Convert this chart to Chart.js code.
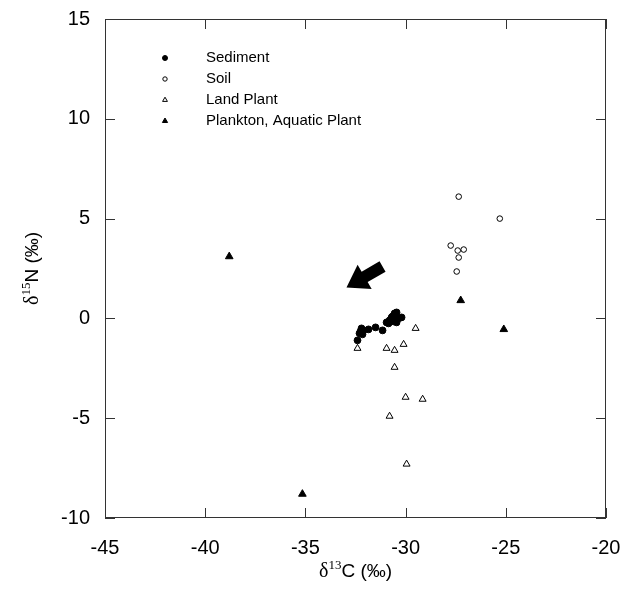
<!DOCTYPE html>
<html>
<head>
<meta charset="utf-8">
<script src="https://cdn.jsdelivr.net/npm/chart.js@4"></script>
<style>
  html,body{margin:0;padding:0;background:#fff;}
  #wrap{width:621px;height:605px;}
</style>
</head>
<body>
<div id="wrap"><canvas id="c" width="621" height="605"></canvas></div>
<script>
// valores (d13C, d15N)
const sedimentX = [-32.4,-32.2,-32.25,-32.15,-32.1,-32.3,-31.85,-31.5,-31.15,-30.95,-30.8,-30.7,-30.55,-30.45,-30.35,-30.2,-30.45,-30.6,-30.85,-30.65];
const sedimentY = [-1.1,-0.5,-0.65,-0.8,-0.6,-0.75,-0.55,-0.45,-0.6,-0.2,-0.1,0.05,0.25,0.3,0.0,0.05,-0.2,-0.15,-0.25,0.1];
const soilX = [-27.35,-25.3,-27.75,-27.4,-27.1,-27.35,-27.45];
const soilY = [6.1,5.0,3.65,3.4,3.45,3.05,2.35];
const landX = [-29.5,-32.4,-30.95,-30.55,-30.1,-30.55,-30.0,-29.15,-30.8,-29.95];
const landY = [-0.5,-1.5,-1.5,-1.6,-1.3,-2.45,-3.95,-4.05,-4.9,-7.3];
const planktonX = [-38.8,-27.25,-25.1,-35.15];
const planktonY = [3.1,0.9,-0.55,-8.8];

const seriesNames = ['Sediment','Soil','Land Plant','Plankton, Aquatic Plant'];
const xTicks = [-45,-40,-35,-30,-25,-20];
const yTicks = [-10,-5,0,5,10,15];
// seta (em coordenadas dos dados): cauda -> ponta
const arrowFrom = [-31.15, 2.6];
const arrowTo = [-32.95, 1.55];

function pts(xs, ys){ return xs.map((x,i)=>({x, y:ys[i]})); }

const styles = [
  { pointStyle:'circle', radius:3.4, bg:'#000', border:'#000', legendR:2.5 },
  { pointStyle:'circle', radius:2.8, bg:'#fff', border:'#000', legendR:2.2 },
  { pointStyle:'triangle', radius:4, bg:'#fff', border:'#000', legendR:2.8 },
  { pointStyle:'triangle', radius:4.4, bg:'#000', border:'#000', legendR:3 }
];
const allData = [pts(sedimentX,sedimentY), pts(soilX,soilY), pts(landX,landY), pts(planktonX,planktonY)];

const SANS = '"Liberation Sans", Arial, sans-serif';
const SERIF = '"Liberation Serif", "Times New Roman", serif';

const framePlugin = {
  id:'frame',
  afterDraw(chart){
    const {ctx, chartArea:a, scales} = chart;
    const xs = scales.x, ys = scales.y;
    ctx.save();
    // caixa
    ctx.strokeStyle = '#333';
    ctx.lineWidth = 1;
    ctx.strokeRect(a.left+0.5, a.top+0.5, a.right-a.left-1, a.bottom-a.top-1);
    // ticks para dentro
    ctx.beginPath();
    xTicks.forEach(v=>{
      const px = Math.round(xs.getPixelForValue(v))+0.5;
      ctx.moveTo(px, a.bottom); ctx.lineTo(px, a.bottom-10);
      ctx.moveTo(px, a.top); ctx.lineTo(px, a.top+10);
    });
    yTicks.forEach(v=>{
      const py = Math.round(ys.getPixelForValue(v))+0.5;
      ctx.moveTo(a.left, py); ctx.lineTo(a.left+10, py);
      ctx.moveTo(a.right, py); ctx.lineTo(a.right-10, py);
    });
    ctx.stroke();

    // legenda
    const lx = 165, ly0 = 58, step = 21;
    seriesNames.forEach((name,i)=>{
      const s = styles[i];
      const y = ly0 + i*step;
      ctx.fillStyle = s.bg; ctx.strokeStyle = s.border; ctx.lineWidth = 1;
      Chart.helpers.drawPoint(ctx, { pointStyle:s.pointStyle, radius:s.legendR, borderWidth:1 }, lx, y);
      ctx.fillStyle = '#000';
      ctx.font = '15px ' + SANS;
      ctx.textBaseline = 'middle';
      ctx.textAlign = 'left';
      ctx.fillText(name, 206, y);
    });

    // seta
    const tx = xs.getPixelForValue(arrowFrom[0]), ty = ys.getPixelForValue(arrowFrom[1]);
    const hx = xs.getPixelForValue(arrowTo[0]), hy = ys.getPixelForValue(arrowTo[1]);
    const ang = Math.atan2(hy-ty, hx-tx);
    const len = Math.hypot(hx-tx, hy-ty);
    ctx.translate(tx, ty); ctx.rotate(ang);
    const headL = 21, shaftW = 6, headW = 14;
    ctx.beginPath();
    ctx.moveTo(0,-shaftW); ctx.lineTo(len-headL,-shaftW); ctx.lineTo(len-headL,-headW);
    ctx.lineTo(len,0); ctx.lineTo(len-headL,headW); ctx.lineTo(len-headL,shaftW); ctx.lineTo(0,shaftW);
    ctx.closePath();
    ctx.fillStyle = '#000'; ctx.fill();
    ctx.setTransform(1,0,0,1,0,0);

    // títulos dos eixos com sobrescrito
    function richTitle(parts, cx, cy, rot){
      ctx.save();
      ctx.translate(cx, cy); if(rot) ctx.rotate(rot);
      let w = 0;
      parts.forEach(p=>{ ctx.font = p.font; w += ctx.measureText(p.t).width; });
      let x = -w/2;
      ctx.textBaseline = 'alphabetic'; ctx.textAlign = 'left'; ctx.fillStyle = '#000';
      parts.forEach(p=>{ ctx.font = p.font; ctx.fillText(p.t, x, 7 + (p.dy||0)); x += ctx.measureText(p.t).width; });
      ctx.restore();
    }
    richTitle([
      {t:'δ', font:'20px '+SERIF},
      {t:'13', font:'13px '+SERIF, dy:-8},
      {t:'C (‰)', font:'19px '+SANS}
    ], (a.left+a.right)/2, 570, 0);
    richTitle([
      {t:'δ', font:'20px '+SERIF},
      {t:'15', font:'13px '+SERIF, dy:-8},
      {t:'N (‰)', font:'19px '+SANS}
    ], 31, (a.top+a.bottom)/2, -Math.PI/2);
    ctx.restore();
  }
};

new Chart(document.getElementById('c').getContext('2d'), {
  type:'scatter',
  data:{
    datasets: allData.map((d,i)=>({
      label: seriesNames[i],
      data: d,
      pointStyle: styles[i].pointStyle,
      pointRadius: styles[i].radius,
      pointBackgroundColor: styles[i].bg,
      pointBorderColor: styles[i].border,
      pointBorderWidth: 1
    }))
  },
  options:{
    responsive:false,
    animation:false,
    layout:{ padding:{ top:19, right:15, left:0, bottom:0 } },
    plugins:{ legend:{display:false}, tooltip:{enabled:false} },
    scales:{
      x:{
        type:'linear', min:-45, max:-20,
        afterBuildTicks(s){ s.ticks = xTicks.map(v=>({value:v})); },
        afterFit(s){ s.height = 87; s.paddingLeft = 0; s.paddingRight = 0; },
        grid:{ display:false, drawTicks:false },
        border:{ display:false },
        ticks:{ font:{ size:20, family:SANS }, color:'#000', padding:18, maxRotation:0 }
      },
      y:{
        type:'linear', min:-10, max:15,
        afterBuildTicks(s){ s.ticks = yTicks.map(v=>({value:v})); },
        afterFit(s){ s.width = 105; s.paddingTop = 0; s.paddingBottom = 0; },
        grid:{ display:false, drawTicks:false },
        border:{ display:false },
        ticks:{ font:{ size:20, family:SANS }, color:'#000', padding:15 }
      }
    }
  },
  plugins:[framePlugin]
});
</script>
</body>
</html>
